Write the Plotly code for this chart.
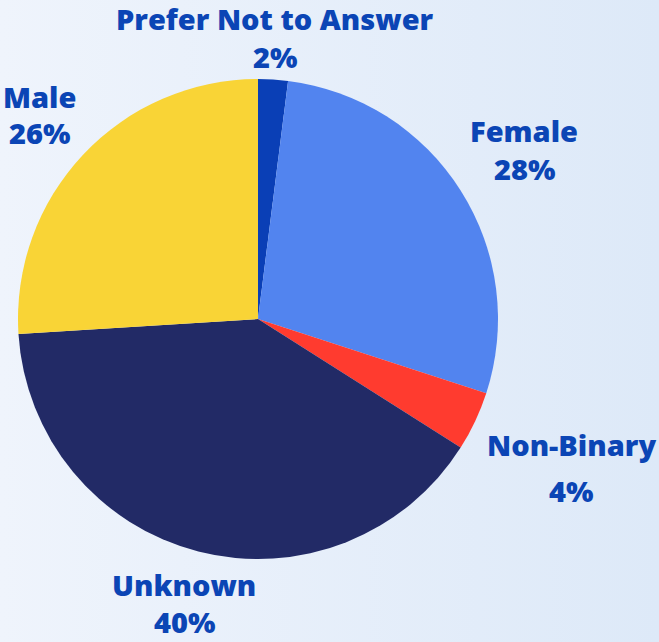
import plotly.graph_objects as go

labels = ["Prefer Not to Answer", "Female", "Non-Binary", "Unknown", "Male"]
values = [2, 28, 4, 40, 26]
colors = ["#0a3fb6", "#5284ef", "#ff3b2f", "#222a66", "#f9d436"]

W, H = 659, 642

fig = go.Figure()

# soft background gradient
fig.add_trace(go.Scatter(
    x=[0, 1, 1, 0, 0], y=[0, 0, 1, 1, 0],
    mode="lines", fill="toself", line_width=0,
    fillgradient=dict(type="horizontal",
                      colorscale=[[0, "#eff4fc"], [1, "#dde9f8"]]),
    hoverinfo="skip", showlegend=False,
))

fig.add_trace(go.Pie(
    labels=labels,
    values=values,
    sort=False,
    direction="clockwise",
    rotation=0,
    marker=dict(colors=colors, line=dict(width=0)),
    textinfo="none",
    showlegend=False,
    domain=dict(x=[18 / W, 498 / W], y=[1 - 559 / H, 1 - 79 / H]),
))

# label positions in pixels (center x, first-line y, second-line y)
label_pos = {
    "Prefer Not to Answer": (275, 19, 57),
    "Female": (524, 131, 169),
    "Non-Binary": (571, 444, 490),
    "Unknown": (184, 584, 621),
    "Male": (39, 97, 133),
}
font = dict(family="Open Sans", size=29, color="#0b45b5", weight=800)
for lab, v in zip(labels, values):
    cx, y1, y2 = label_pos[lab]
    fig.add_annotation(x=cx / W, y=1 - y1 / H, xref="paper", yref="paper",
                       text=lab, showarrow=False, font=font, borderpad=0,
                       xanchor="center", yanchor="middle")
    fig.add_annotation(x=cx / W, y=1 - y2 / H, xref="paper", yref="paper",
                       text=f"{v}%", showarrow=False, font=font, borderpad=0,
                       xanchor="center", yanchor="middle")

fig.update_xaxes(visible=False, range=[0, 1], domain=[0, 1])
fig.update_yaxes(visible=False, range=[0, 1], domain=[0, 1])
fig.update_layout(
    width=W, height=H,
    margin=dict(l=0, r=0, t=0, b=0),
    paper_bgcolor="#e9f1fb",
    plot_bgcolor="rgba(0,0,0,0)",
)

fig.write_html("out.html", config={"displayModeBar": False},
               post_script="document.body.style.margin='0px';document.body.style.overflow='hidden';")
